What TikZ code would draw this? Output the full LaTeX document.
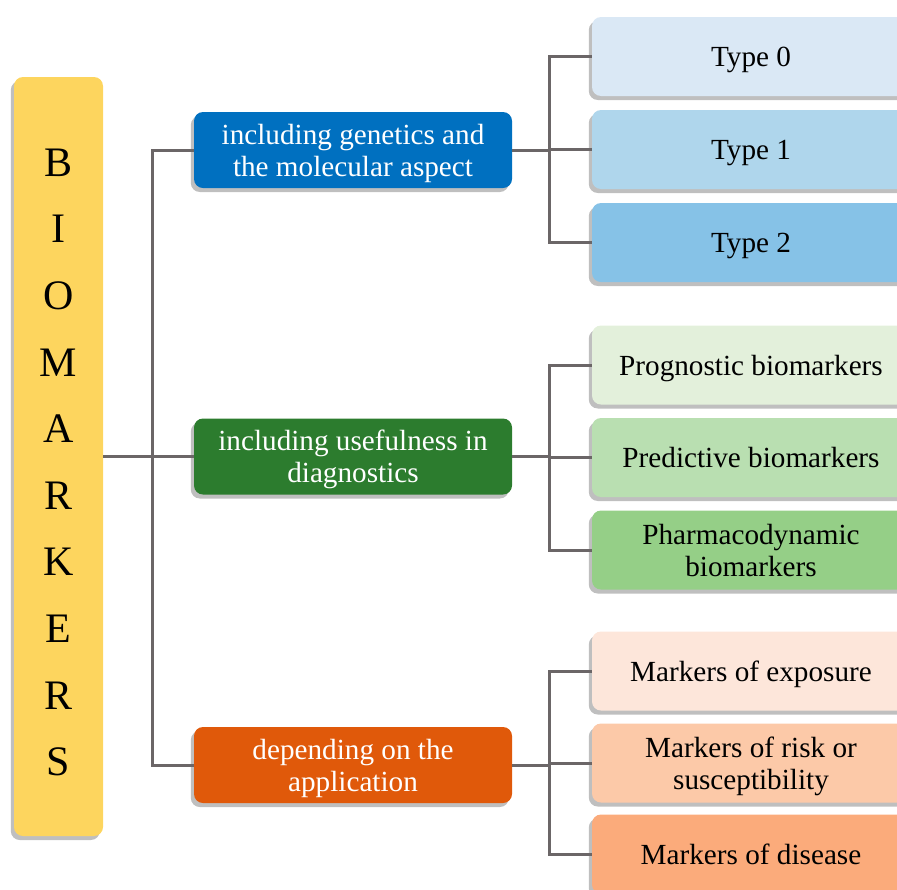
\documentclass[tikz,border=0pt]{standalone}
\usepackage{fontspec}
\setmainfont{Liberation Serif}
\usetikzlibrary{shadows}
\definecolor{bioY}{HTML}{FDD55E}
\definecolor{lineG}{HTML}{6B6667}
\definecolor{mBlue}{HTML}{0070C0}
\definecolor{mGreen}{HTML}{2C7C2E}
\definecolor{mOrange}{HTML}{E0590A}
\definecolor{b0}{HTML}{DAE8F5}
\definecolor{b1}{HTML}{AFD6EC}
\definecolor{b2}{HTML}{86C2E7}
\definecolor{g0}{HTML}{E3F0DB}
\definecolor{g1}{HTML}{B9DFB1}
\definecolor{g2}{HTML}{95CF87}
\definecolor{o0}{HTML}{FDE6DA}
\definecolor{o1}{HTML}{FCC9A8}
\definecolor{o2}{HTML}{FBAB7B}
\tikzset{
  shade box/.style={rounded corners=4.5pt, inner sep=0pt, align=center, text depth=0pt,
    drop shadow={shadow xshift=-1.6pt, shadow yshift=-2pt, fill=black, opacity=0.25}},
  midbox/.style={shade box, minimum width=159pt, minimum height=38pt,
    text=white, font=\fontsize{14.6}{16}\selectfont},
  leafbox/.style={shade box, minimum width=159pt, minimum height=39.5pt,
    text=black, font=\fontsize{14.6}{16}\selectfont},
  conn/.style={draw=lineG, line width=1.5pt}
}
\begin{document}
\begin{tikzpicture}[x=0.5pt,y=-0.5pt]
\useasboundingbox (0,0) rectangle (897,889);
% main box
\node[shade box, fill=bioY, minimum width=44.5pt, minimum height=379.5pt] (bio) at (58.5,456.5) {};
\node[align=center, font=\fontsize{21}{33.3}\selectfont, inner sep=0pt] (letters) at (58.5,462.5)
  {B\\I\\O\\M\\A\\R\\K\\E\\R\\S};
% mid nodes
\node[midbox, fill=mBlue] (m1) at (353,150) {including genetics and\\the molecular aspect};
\node[midbox, fill=mGreen] (m2) at (353,456.5) {including usefulness in\\diagnostics};
\node[midbox, fill=mOrange] (m3) at (353,765) {depending on the\\application};
% leaves
\node[leafbox, fill=b0] (a1) at (751,56.5) {Type 0};
\node[leafbox, fill=b1] (a2) at (751,149.5) {Type 1};
\node[leafbox, fill=b2] (a3) at (751,242.5) {Type 2};
\node[leafbox, fill=g0] (c1) at (751,365) {Prognostic biomarkers};
\node[leafbox, fill=g1] (c2) at (751,457.5) {Predictive biomarkers};
\node[leafbox, fill=g2] (c3) at (751,550) {Pharmacodynamic\\biomarkers};
\node[leafbox, fill=o0] (d1) at (751,671) {Markers of exposure};
\node[leafbox, fill=o1] (d2) at (751,763) {Markers of risk or\\susceptibility};
\node[leafbox, fill=o2] (d3) at (751,854) {Markers of disease};
% junction coordinates
\coordinate (j0) at (152,456.5);
\coordinate (j1) at (549,150);
\coordinate (j2) at (549,456.5);
\coordinate (j3) at (549,765);
% trunk
\draw[conn] (bio.east) -- (j0);
\draw[conn] (m1.west) -- (m1.west -| j0) -- (m3.west -| j0) -- (m3.west);
\draw[conn] (m2.west) -- (j0);
% group 1
\draw[conn] (m1.east) -- (j1);
\draw[conn] (a1.west) -- (a1.west -| j1) -- (a3.west -| j1) -- (a3.west);
\draw[conn] (a2.west) -- (a2.west -| j1);
% group 2
\draw[conn] (m2.east) -- (j2);
\draw[conn] (c1.west) -- (c1.west -| j2) -- (c3.west -| j2) -- (c3.west);
\draw[conn] (c2.west) -- (c2.west -| j2);
% group 3
\draw[conn] (m3.east) -- (j3);
\draw[conn] (d1.west) -- (d1.west -| j3) -- (d3.west -| j3) -- (d3.west);
\draw[conn] (d2.west) -- (d2.west -| j3);
\end{tikzpicture}
\end{document}
